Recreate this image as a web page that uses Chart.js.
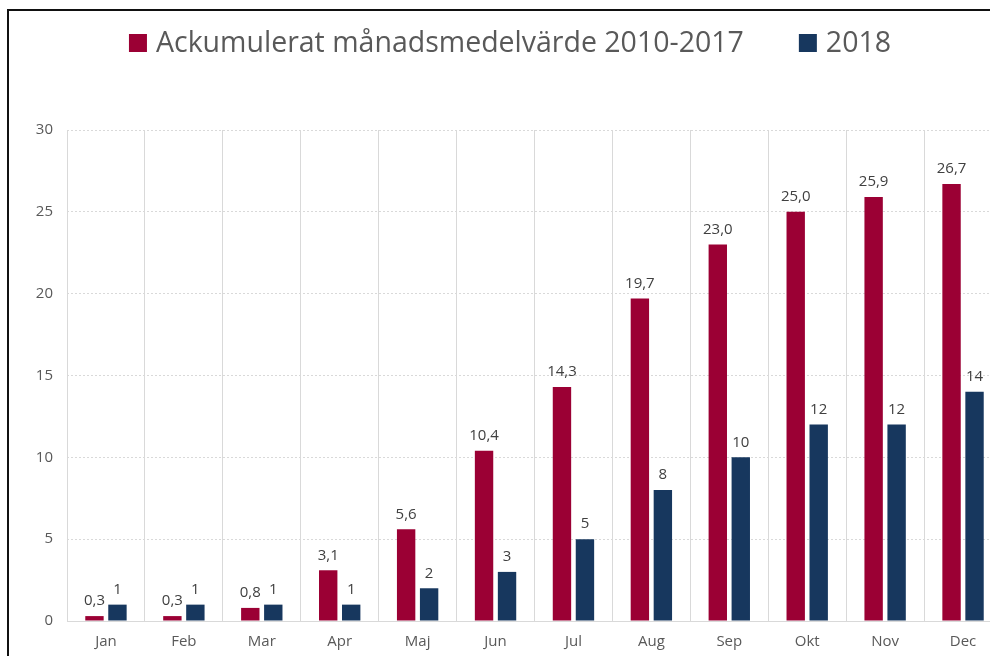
<!DOCTYPE html>
<html>
<head>
<meta charset="utf-8">
<script src="https://cdn.jsdelivr.net/npm/chart.js@4.4.0/dist/chart.umd.min.js"></script>
<style>
  html, body { margin: 0; padding: 0; background: #ffffff; overflow: hidden; width: 990px; height: 656px; }
  #wrap { position: absolute; left: 0; top: 0; width: 1010px; height: 656px; }
  #frame { position: absolute; left: 7px; top: 9px; width: 1100px; height: 800px; border-left: 2px solid #111; border-top: 2px solid #111; pointer-events: none; }
</style>
</head>
<body>
<div id="wrap"><canvas id="c" width="1010" height="656"></canvas></div>
<div id="frame"></div>
<script>
const categories = ['Jan', 'Feb', 'Mar', 'Apr', 'Maj', 'Jun', 'Jul', 'Aug', 'Sep', 'Okt', 'Nov', 'Dec'];
const avgLabel = 'Ackumulerat månadsmedelvärde 2010-2017';
const avgValues = [0.3, 0.3, 0.8, 3.1, 5.6, 10.4, 14.3, 19.7, 23.0, 25.0, 25.9, 26.7];
const label2018 = '2018';
const values2018 = [1, 1, 1, 1, 2, 3, 5, 8, 10, 12, 12, 14];
const yMin = 0, yMax = 30, yStep = 5;

const FONT = "'Open Sans', 'DejaVu Sans', sans-serif";
const RED = '#9b0034';
const BLUE = '#17375e';

const valueLabels = {
  id: 'valueLabels',
  afterDatasetsDraw(chart) {
    const ctx = chart.ctx;
    ctx.save();
    ctx.font = '15px ' + FONT;
    ctx.fillStyle = '#404040';
    ctx.textAlign = 'center';
    ctx.textBaseline = 'middle';
    chart.data.datasets.forEach((ds, di) => {
      const meta = chart.getDatasetMeta(di);
      meta.data.forEach((bar, i) => {
        const v = ds.data[i];
        const txt = di === 0 ? v.toFixed(1).replace('.', ',') : String(v);
        ctx.fillText(txt, bar.x, bar.y - 15);
      });
    });
    ctx.restore();
  }
};

const customLegend = {
  id: 'customLegend',
  afterDraw(chart) {
    const ctx = chart.ctx;
    ctx.save();
    const fs = 28.5;
    ctx.font = fs + 'px ' + FONT;
    ctx.textBaseline = 'middle';
    const box = 18, gap = 9, spacing = 55;
    const items = chart.data.datasets.map(ds => ({ text: ds.label, color: ds.backgroundColor, w: ctx.measureText(ds.label).width }));
    let total = 0;
    items.forEach((it, i) => { total += box + gap + it.w + (i < items.length - 1 ? spacing : 0); });
    let x = 510 - total / 2;
    const cy = 43;
    items.forEach(it => {
      ctx.fillStyle = it.color;
      ctx.fillRect(x, cy - box / 2, box, box);
      x += box + gap;
      ctx.fillStyle = '#595959';
      ctx.fillText(it.text, x, cy + 1);
      x += it.w + spacing;
    });
    ctx.restore();
  }
};

new Chart(document.getElementById('c'), {
  type: 'bar',
  data: {
    labels: categories,
    datasets: [
      { label: avgLabel, data: avgValues, backgroundColor: RED, categoryPercentage: 0.59, barPercentage: 0.8 },
      { label: label2018, data: values2018, backgroundColor: BLUE, categoryPercentage: 0.59, barPercentage: 0.8 }
    ]
  },
  options: {
    responsive: false,
    animation: false,
    devicePixelRatio: 1,
    layout: { padding: { top: 130, right: 8, bottom: 0, left: 0 } },
    plugins: {
      legend: { display: false },
      tooltip: { enabled: false }
    },
    scales: {
      x: {
        grid: { display: true, offset: true, color: '#d9d9d9', lineWidth: 1, drawTicks: false },
        border: { display: true, color: '#d9d9d9' },
        ticks: { color: '#595959', font: { family: FONT, size: 15 }, padding: 12 },
        afterFit(scale) { scale.height = 35; }
      },
      y: {
        min: yMin, max: yMax,
        grid: { color: '#d9d9d9', lineWidth: 1, drawTicks: false },
        border: { display: false, dash: [2, 2] },
        ticks: { stepSize: yStep, color: '#595959', font: { family: FONT, size: 15 }, padding: 14 },
        afterFit(scale) { scale.width = 67; }
      }
    }
  },
  plugins: [valueLabels, customLegend]
});
</script>
</body>
</html>
